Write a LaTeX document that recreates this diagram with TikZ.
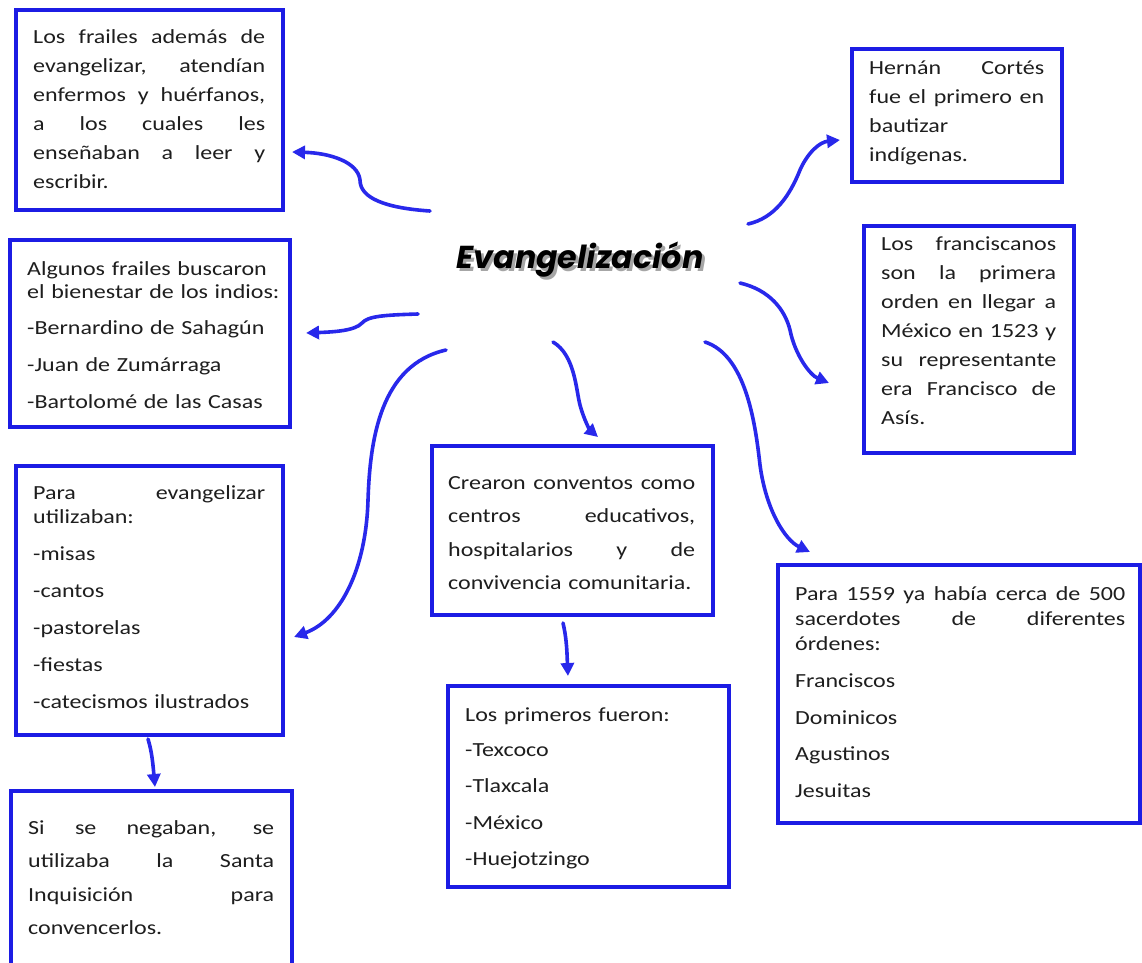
\documentclass[tikz,border=0pt]{standalone}
\usepackage{fontspec}
\setmainfont{Carlito}[FakeStretch=1.2]
\newfontfamily\titlefont{Poppins}
\usepackage{graphicx}
\usetikzlibrary{arrows.meta}
\definecolor{boxblue}{RGB}{28,28,228}
\definecolor{arrblue}{RGB}{40,40,235}
\definecolor{txt}{RGB}{30,30,30}
\newlength\tw
\newcommand\J[1]{\leavevmode\hbox to\tw{\spaceskip=0.25em plus 1fil\relax #1}}
\newcommand\titletext{\resizebox{247pt}{!}{\titlefont\bfseries\itshape Evangelización}}
\begin{document}
\begin{tikzpicture}[x=1pt,y=-1pt,
 bx/.style={draw=boxblue, line width=4pt, rectangle, inner sep=0pt},
 tx/.style={anchor=base west, inner sep=0pt, align=left, text=txt, text width=#1,
   /utils/exec={\global\tw=#1\relax}},
 arr/.style={draw=arrblue, line width=3.6pt, line cap=round, -{Triangle[length=13pt,width=13pt]}},
]
\useasboundingbox (0,0) rectangle (1142,962);
\fill[white] (0,0) rectangle (1142,962);

% boxes
\node[bx, minimum width=267pt, minimum height=200pt] (A) at (149.5,110) {};
\node[bx, minimum width=280pt, minimum height=187pt] (B) at (150,333.5) {};
\node[bx, minimum width=210pt, minimum height=133pt] (C) at (957,115.5) {};
\node[bx, minimum width=210pt, minimum height=227pt] (D) at (969,339.5) {};
\node[bx, minimum width=281pt, minimum height=169pt] (E) at (572.5,530.5) {};
\node[bx, minimum width=362pt, minimum height=258pt] (F) at (959,694) {};
\node[bx, minimum width=267pt, minimum height=269pt] (G) at (149.5,600.5) {};
\node[bx, minimum width=281pt, minimum height=184pt] (H) at (151.5,883) {};
\node[bx, minimum width=281pt, minimum height=201pt] (I) at (588.5,786.5) {};

% texts
\node[tx=232pt, font=\fontsize{20}{29}\selectfont] (tA) at (33,43)
 {\J{Los frailes además de}\\\J{evangelizar, atendían}\\\J{enfermos y huérfanos,}\\\J{a los cuales les}\\\J{enseñaban a leer y}\\escribir.};
\node[tx=265pt, font=\fontsize{20}{23.5}\selectfont] (tB) at (27,275)
 {Algunos frailes buscaron\\el bienestar de los indios:\\[12.5pt]-Bernardino de Sahagún\\[13.5pt]-Juan de Zumárraga\\[13.5pt]-Bartolomé de las Casas};
\node[tx=175pt, font=\fontsize{20}{29}\selectfont] (tC) at (869,74)
 {\J{Hernán Cortés}\\\J{fue el primero en}\\bautizar\\indígenas.};
\node[tx=175pt, font=\fontsize{20}{29}\selectfont] (tD) at (881,250)
 {\J{Los franciscanos}\\\J{son la primera}\\\J{orden en llegar a}\\\J{México en 1523 y}\\\J{su representante}\\\J{era Francisco de}\\Asís.};
\node[tx=247pt, font=\fontsize{20}{33.5}\selectfont] (tE) at (448,489)
 {\J{Crearon conventos como}\\\J{centros educativos,}\\\J{hospitalarios y de}\\convivencia comunitaria.};
\node[tx=330pt, font=\fontsize{20}{25}\selectfont] (tF) at (795,600)
 {\J{Para 1559 ya había cerca de 500}\\\J{sacerdotes de diferentes}\\órdenes:\\[12pt]Franciscos\\[12pt]Dominicos\\[11pt]Agustinos\\[12pt]Jesuitas};
\node[tx=232pt, font=\fontsize{20}{24}\selectfont] (tG) at (33,499)
 {\J{Para evangelizar}\\utilizaban:\\[13pt]-misas\\[13pt]-cantos\\[13pt]-pastorelas\\[13pt]-fiestas\\[13pt]-catecismos ilustrados};
\node[tx=246pt, font=\fontsize{20}{33.5}\selectfont] (tH) at (28,834)
 {\J{Si se negaban, se}\\\J{utilizaba la Santa}\\\J{Inquisición para}\\convencerlos.};
\node[tx=240pt, font=\fontsize{20}{36.5}\selectfont] (tI) at (465,721)
 {Los primeros fueron:\\[-1.5pt]-Texcoco\\-Tlaxcala\\-México\\-Huejotzingo};

% title with its drop shadow in one node
\node[text=black, inner sep=0pt] (T) at (580,261)
 {\makebox[0pt][l]{\hspace*{3pt}\raisebox{-3pt}{\textcolor{black!35}{\titletext}}}\titletext};

% connector end points
\coordinate (s1) at (430,211); \coordinate (e1) at (292,152);
\coordinate (s2) at (418,314); \coordinate (e2) at (306,333);
\coordinate (s3) at (446,350); \coordinate (e3) at (294,637);
\coordinate (s4) at (553,342); \coordinate (e4) at (598,437);
\coordinate (s5) at (705,342); \coordinate (e5) at (810,552);
\coordinate (s6) at (740,283); \coordinate (e6) at (829,383);
\coordinate (s7) at (748,224); \coordinate (e7) at (840,140);
\coordinate (s8) at (563,623); \coordinate (e8) at (568,676);
\coordinate (s9) at (148,739); \coordinate (e9) at (155,787);

\draw[arr] (s1) .. controls (385,208) and (360,198) .. (360,180) .. controls (358,162) and (330,153) .. (e1);
\draw[arr] (s2) .. controls (385,315) and (368,316) .. (362,323) .. controls (355,331) and (332,332) .. (e2);
\draw[arr] (s3) .. controls (380,365) and (370,440) .. (368,500) .. controls (366,570) and (340,620) .. (e3);
\draw[arr] (s4) .. controls (575,355) and (576,390) .. (580,405) .. controls (584,420) and (590,430) .. (e4);
\draw[arr] (s5) .. controls (745,355) and (755,420) .. (760,465) .. controls (766,510) and (785,540) .. (e5);
\draw[arr] (s6) .. controls (770,290) and (785,310) .. (790,330) .. controls (795,355) and (810,375) .. (e6);
\draw[arr] (s7) .. controls (775,218) and (790,195) .. (800,170) .. controls (808,152) and (820,142) .. (e7);
\draw[arr] (s8) .. controls (567,640) and (567,655) .. (e8);
\draw[arr] (s9) .. controls (152,752) and (153,765) .. (e9);
\end{tikzpicture}
\end{document}
